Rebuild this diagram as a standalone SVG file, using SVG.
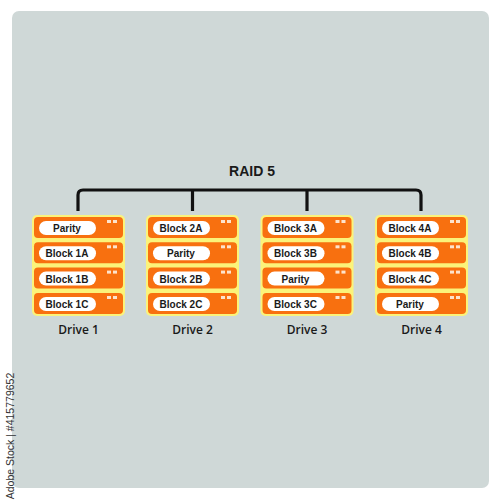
<svg xmlns="http://www.w3.org/2000/svg" width="500" height="500" viewBox="0 0 500 500">
<style>
.drv{fill:#fbf37a}
.row{fill:#f8700f}
.pill{fill:#ffffff}
.dot{fill:#fde3cc}
.bt{font-family:"Liberation Sans",Arial,sans-serif;font-weight:bold;font-size:10px;fill:#1a1a1a;text-anchor:middle}
.lbl{font-family:"Open Sans","Liberation Sans",Arial,sans-serif;font-weight:600;font-size:12px;fill:#1a1a1a;text-anchor:middle}
.title{font-family:"Liberation Sans",Arial,sans-serif;font-weight:bold;font-size:14px;fill:#1a1a1a;text-anchor:middle}
.con{fill:none;stroke:#111;stroke-width:3.2;stroke-linejoin:round;stroke-linecap:butt}
</style>
<defs>
<g id="rowbase">
<rect class="row" x="0" y="0" width="89" height="21" rx="4"/>
<rect class="pill" x="5" y="4" width="57" height="14" rx="7"/>
<rect class="dot" x="73" y="3" width="4" height="3"/>
<rect class="dot" x="79" y="3" width="4" height="3"/>
</g>
</defs>
<rect width="500" height="500" fill="#ffffff"/>
<rect x="12" y="11" width="477" height="477" rx="7" fill="#cfd8d7"/>
<text x="14" y="436" transform="rotate(-90 14 436)" font-family="'Liberation Sans',Arial,sans-serif" font-size="10.5" fill="#333" text-anchor="middle">Adobe Stock | #415779652</text>

<text class="title" x="252" y="176">RAID 5</text>

<g id="connectors">
<path class="con" d="M78 211 V195 Q78 190 83 190 H416 Q421 190 421 195 V211"/>
<path class="con" d="M192.5 190 V211"/>
<path class="con" d="M307 190 V211"/>
</g>

<g id="drive1" transform="translate(32,215)">
<rect class="drv" x="0" y="0" width="93" height="101" rx="5"/>
<use href="#rowbase" x="2" y="2"/><text class="bt" x="35" y="17">Parity</text>
<use href="#rowbase" x="2" y="27.3"/><text class="bt" x="35" y="42.3">Block 1A</text>
<use href="#rowbase" x="2" y="52.6"/><text class="bt" x="35" y="67.6">Block 1B</text>
<use href="#rowbase" x="2" y="78"/><text class="bt" x="35" y="93">Block 1C</text>
<text class="lbl" x="46.5" y="119">Drive 1</text>
</g>

<g id="drive2" transform="translate(146,215)">
<rect class="drv" x="0" y="0" width="93" height="101" rx="5"/>
<use href="#rowbase" x="2" y="2"/><text class="bt" x="35" y="17">Block 2A</text>
<use href="#rowbase" x="2" y="27.3"/><text class="bt" x="35" y="42.3">Parity</text>
<use href="#rowbase" x="2" y="52.6"/><text class="bt" x="35" y="67.6">Block 2B</text>
<use href="#rowbase" x="2" y="78"/><text class="bt" x="35" y="93">Block 2C</text>
<text class="lbl" x="46.5" y="119">Drive 2</text>
</g>

<g id="drive3" transform="translate(260.5,215)">
<rect class="drv" x="0" y="0" width="93" height="101" rx="5"/>
<use href="#rowbase" x="2" y="2"/><text class="bt" x="35" y="17">Block 3A</text>
<use href="#rowbase" x="2" y="27.3"/><text class="bt" x="35" y="42.3">Block 3B</text>
<use href="#rowbase" x="2" y="52.6"/><text class="bt" x="35" y="67.6">Parity</text>
<use href="#rowbase" x="2" y="78"/><text class="bt" x="35" y="93">Block 3C</text>
<text class="lbl" x="46.5" y="119">Drive 3</text>
</g>

<g id="drive4" transform="translate(375,215)">
<rect class="drv" x="0" y="0" width="93" height="101" rx="5"/>
<use href="#rowbase" x="2" y="2"/><text class="bt" x="35" y="17">Block 4A</text>
<use href="#rowbase" x="2" y="27.3"/><text class="bt" x="35" y="42.3">Block 4B</text>
<use href="#rowbase" x="2" y="52.6"/><text class="bt" x="35" y="67.6">Block 4C</text>
<use href="#rowbase" x="2" y="78"/><text class="bt" x="35" y="93">Parity</text>
<text class="lbl" x="46.5" y="119">Drive 4</text>
</g>
</svg>
